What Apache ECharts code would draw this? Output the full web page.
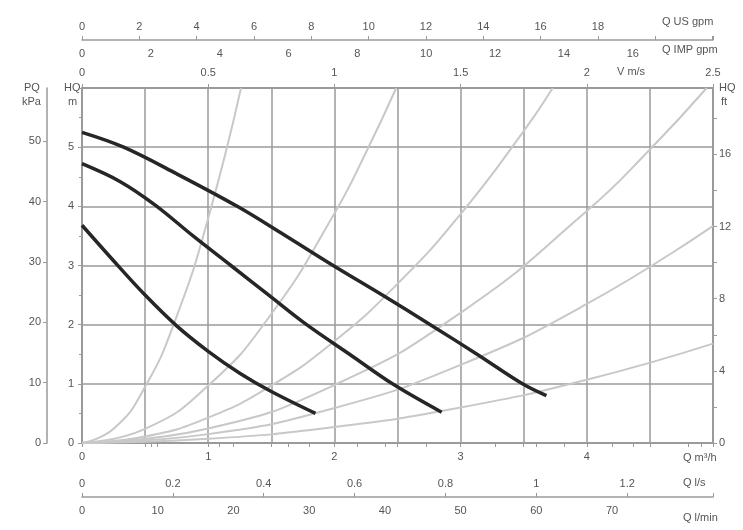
<!DOCTYPE html>
<html><head><meta charset="utf-8">
<script src="https://cdn.jsdelivr.net/npm/echarts@6/dist/echarts.min.js"></script>
<style>html,body{margin:0;padding:0;background:#fff}#c{width:743px;height:530px}</style>
</head><body><div id="c"></div>
<script>
// Axis ranges (m3/h and m)
const qMax = 5;
const hMax = 6;

// Pump curves: [Q m3/h, H m]
const pumpHigh = [[0,5.25],[0.33,5.0],[0.75,4.55],[1.23,4.0],[1.6,3.52],[1.99,3.0],[2.38,2.5],[2.76,2.0],[3.13,1.5],[3.49,1.0],[3.68,0.8]];
const pumpMid  = [[0,4.72],[0.3,4.42],[0.58,4.02],[0.88,3.5],[1.18,3.0],[1.48,2.5],[1.78,2.0],[2.12,1.5],[2.46,1.0],[2.85,0.52]];
const pumpLow  = [[0,3.68],[0.25,3.08],[0.5,2.5],[0.75,1.98],[1.0,1.55],[1.25,1.18],[1.5,0.87],[1.85,0.5]];

// System (pipe) curves: [Q m3/h, H m]
const sysA = [[0,0],[0.25,0.24],[0.5,0.95],[0.75,2.14],[1.0,3.8],[1.26,6.0]];
const sysB = [[0,0],[0.5,0.24],[1,0.97],[1.5,2.18],[2,3.88],[2.25,4.91],[2.49,6.0]];
const sysC = [[0,0],[0.5,0.11],[1,0.43],[1.5,0.97],[2,1.72],[2.5,2.69],[3,3.87],[3.5,5.27],[3.73,6.0]];
const sysD = [[0,0],[1,0.245],[2,0.98],[3,2.2],[4,3.92],[4.5,4.96],[4.95,6.0]];
const sysE = [[0,0],[1,0.15],[2,0.59],[3,1.32],[4,2.35],[5,3.67]];
const sysF = [[0,0],[1,0.07],[2,0.27],[3,0.6],[4,1.07],[5,1.68]];

// Secondary axis tick steps
const lsStep = 0.2, lminStep = 10, usStep = 2, impStep = 2, vStep = 0.5;
const kpaStep = 10, ftStep = 2;

const FONT = 'Liberation Sans';
const TXT = '#555';
const GRID = '#9a9a9a';
const lab = (extra) => Object.assign({color: TXT, fontSize: 11, fontFamily: FONT}, extra || {});
const lineStyle = {color: GRID, width: 1.5};

const chart = echarts.init(document.getElementById('c'), null, {renderer: 'canvas'});

const sys = (d) => ({type: 'line', data: d, xAxisIndex: 0, yAxisIndex: 0, smooth: true, symbol: 'none',
  lineStyle: {color: '#c8c8c8', width: 2}, z: 2, silent: true});
const pump = (d) => ({type: 'line', data: d, xAxisIndex: 0, yAxisIndex: 0, smooth: 0.35, symbol: 'none',
  lineStyle: {color: '#262626', width: 3.5}, z: 5, silent: true});

const txt = (t, x, y, align) => ({type: 'text', left: x, top: y,
  style: {text: t, fill: TXT, fontSize: 11, fontFamily: FONT, textAlign: align || 'left'}});

chart.setOption({
  animation: false,
  backgroundColor: '#fff',
  grid: {left: 82, right: 30, top: 88, bottom: 87, containLabel: false},
  xAxis: [
    {type: 'value', position: 'bottom', min: 0, max: qMax, interval: 0.5,
     axisLine: {show: true, lineStyle: {color: GRID, width: 2}},
     axisTick: {show: true, length: 4, lineStyle: {color: GRID}},
     axisLabel: lab({margin: 8, formatter: v => (Number.isInteger(v) && v < qMax) ? String(v) : ''}),
     splitLine: {show: true, lineStyle: lineStyle}},
    {type: 'value', position: 'bottom', offset: 54, min: 0, max: qMax / 3.6, interval: lsStep,
     axisLine: {show: true, onZero: false, lineStyle: {color: GRID, width: 1.5}},
     axisTick: {show: true, inside: true, length: 4, lineStyle: {color: GRID}},
     axisLabel: lab({inside: true, margin: 8, formatter: v => v > 1.3 ? '' : String(Math.round(v * 10) / 10)}),
     splitLine: {show: false}},
    {type: 'value', position: 'bottom', offset: 54, min: 0, max: qMax / 0.06, interval: lminStep,
     axisLine: {show: false},
     axisTick: {show: true, length: 4, lineStyle: {color: GRID}},
     axisLabel: lab({margin: 8, formatter: v => v > 75 ? '' : String(v)}),
     splitLine: {show: false}},
    {type: 'value', position: 'top', min: 0, max: qMax / 2, interval: vStep,
     axisLine: {show: true, onZero: false, lineStyle: {color: GRID, width: 2}},
     axisTick: {show: true, length: 4, lineStyle: {color: GRID}},
     axisLabel: lab({margin: 10, showMaxLabel: true, formatter: v => String(Math.round(v * 10) / 10)}),
     splitLine: {show: false}},
    {type: 'value', position: 'top', offset: 48, min: 0, max: qMax * 4.4029, interval: usStep,
     axisLine: {show: true, onZero: false, lineStyle: {color: GRID, width: 1.5}},
     axisTick: {show: true, length: 4, lineStyle: {color: GRID}},
     axisLabel: lab({margin: 8, formatter: v => v > 18 ? '' : String(v)}),
     splitLine: {show: false}},
    {type: 'value', position: 'top', offset: 48, min: 0, max: qMax * 3.6662, interval: impStep,
     axisLine: {show: false},
     axisTick: {show: true, inside: true, length: 4, lineStyle: {color: GRID}},
     axisLabel: lab({inside: true, margin: 8, formatter: v => v > 16 ? '' : String(v)}),
     splitLine: {show: false}}
  ],
  yAxis: [
    {type: 'value', position: 'left', min: 0, max: hMax, interval: 1,
     axisLine: {show: true, onZero: false, lineStyle: {color: GRID, width: 2}},
     axisTick: {show: true, length: 4, lineStyle: {color: GRID}},
     minorTick: {show: true, splitNumber: 2, length: 3, lineStyle: {color: GRID}},
     axisLabel: lab({margin: 8, formatter: v => v >= hMax ? '' : String(v)}),
     splitLine: {show: true, lineStyle: lineStyle}},
    {type: 'value', position: 'left', offset: 35, min: 0, max: hMax * 9.80665, interval: kpaStep,
     axisLine: {show: true, onZero: false, lineStyle: {color: GRID, width: 1.5}},
     axisTick: {show: true, length: 4, lineStyle: {color: GRID}},
     axisLabel: lab({margin: 6, showMaxLabel: false, formatter: v => (v % 10 === 0 && v <= 50) ? String(v) : ''}),
     splitLine: {show: false}},
    {type: 'value', position: 'right', min: 0, max: hMax / 0.3048, interval: ftStep,
     axisLine: {show: true, onZero: false, lineStyle: {color: GRID, width: 2}},
     axisTick: {show: true, length: 4, lineStyle: {color: GRID}},
     axisLabel: lab({margin: 6, showMaxLabel: false, formatter: v => (v % 4 === 0) ? String(v) : ''}),
     splitLine: {show: false}}
  ],
  series: [
    sys(sysA), sys(sysB), sys(sysC), sys(sysD), sys(sysE), sys(sysF),
    pump(pumpHigh), pump(pumpMid), pump(pumpLow)
  ],
  graphic: [
    txt('PQ', 24, 82), txt('kPa', 22, 96),
    txt('HQ', 64, 82), txt('m', 68, 96),
    txt('HQ', 719, 82), txt('ft', 721, 96),
    txt('Q US gpm', 662, 16),
    txt('Q IMP gpm', 662, 44),
    txt('V m/s', 617, 66),
    txt('Q m³/h', 683, 452),
    txt('Q l/s', 683, 477),
    txt('Q l/min', 683, 512)
  ]
});
</script></body></html>
